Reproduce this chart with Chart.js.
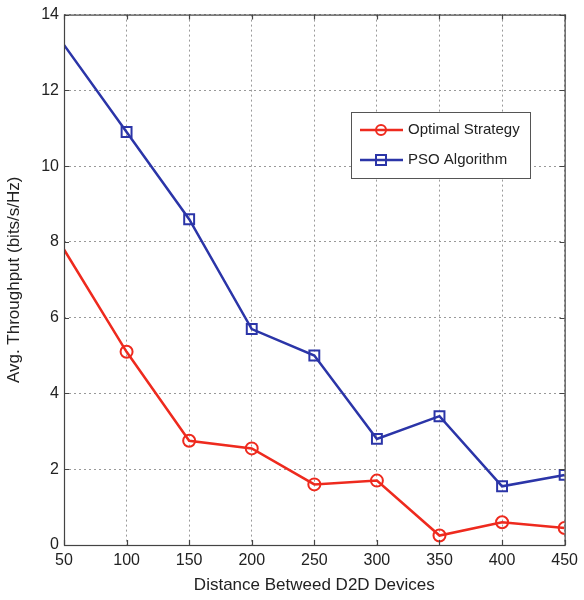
<!DOCTYPE html>
<html>
<head>
<meta charset="utf-8">
<script src="https://cdn.jsdelivr.net/npm/chart.js@4/dist/chart.umd.min.js"></script>
<style>
html,body{margin:0;padding:0;background:#fff;}
#wrap{width:584px;height:600px;position:relative;}
</style>
</head>
<body>
<div id="wrap"><canvas id="c" width="584" height="600"></canvas></div>
<script>
const distances = [50, 100, 150, 200, 250, 300, 350, 400, 450];
const optimalStrategy = [7.8, 5.1, 2.75, 2.55, 1.6, 1.7, 0.25, 0.6, 0.45];
const psoAlgorithm = [13.2, 10.9, 8.6, 5.7, 5.0, 2.8, 3.4, 1.55, 1.85];
const seriesNames = ["Optimal Strategy", "PSO Algorithm"];
const xTitle = "Distance Betweed D2D Devices";
const yTitle = "Avg. Throughput (bits/s/Hz)";

const RED = "#ee2a1e";
const BLUE = "#2b35a8";
const FONT = "'Liberation Sans', Arial, sans-serif";

function toPts(ys){ return distances.map((x,i)=>({x:x,y:ys[i]})); }
const radii = distances.map((d,i)=> i===0 ? 0 : 6);
const radiiSq = distances.map((d,i)=> i===0 ? 0 : 7);

const framePlugin = {
  id:'frame',
  afterDraw(chart){
    const {ctx, chartArea:a, scales} = chart;
    ctx.save();
    ctx.strokeStyle = "#444";
    ctx.lineWidth = 1.2;
    ctx.strokeRect(a.left+0.5, a.top+0.5, a.right-a.left, a.bottom-a.top);
    ctx.beginPath();
    scales.x.ticks.forEach(t=>{
      const px = Math.round(scales.x.getPixelForValue(t.value))+0.5;
      ctx.moveTo(px, a.bottom); ctx.lineTo(px, a.bottom-5);
      ctx.moveTo(px, a.top); ctx.lineTo(px, a.top+5);
    });
    scales.y.ticks.forEach(t=>{
      const py = Math.round(scales.y.getPixelForValue(t.value))+0.5;
      ctx.moveTo(a.left, py); ctx.lineTo(a.left+5, py);
      ctx.moveTo(a.right, py); ctx.lineTo(a.right-5, py);
    });
    ctx.stroke();
    // legend
    const lx = 351, ly = 112, lw = 179, lh = 66;
    ctx.fillStyle = "#fff";
    ctx.fillRect(lx, ly, lw, lh);
    ctx.strokeStyle = "#555";
    ctx.lineWidth = 1;
    ctx.strokeRect(lx+0.5, ly+0.5, lw, lh);
    const items = [{c:RED, shape:'circle'}, {c:BLUE, shape:'rect'}];
    items.forEach((it, i)=>{
      const cy = ly + 18 + i*30;
      ctx.strokeStyle = it.c;
      ctx.lineWidth = 2.5;
      ctx.beginPath(); ctx.moveTo(lx+9, cy); ctx.lineTo(lx+52, cy); ctx.stroke();
      ctx.lineWidth = 2;
      ctx.beginPath();
      if(it.shape==='circle'){ ctx.arc(lx+30, cy, 5, 0, Math.PI*2); }
      else { ctx.rect(lx+25, cy-5, 10, 10); }
      ctx.stroke();
      ctx.fillStyle = "#222";
      ctx.font = "15px " + FONT;
      ctx.textBaseline = "middle";
      ctx.fillText(seriesNames[i], lx+57, cy);
    });
    ctx.restore();
  }
};

new Chart(document.getElementById('c'), {
  type:'line',
  data:{
    datasets:[
      {label:seriesNames[0], data:toPts(optimalStrategy), borderColor:RED, backgroundColor:'rgba(0,0,0,0)',
       borderWidth:2.5, pointStyle:'circle', pointRadius:radii, pointBorderWidth:2, pointBorderColor:RED, tension:0},
      {label:seriesNames[1], data:toPts(psoAlgorithm), borderColor:BLUE, backgroundColor:'rgba(0,0,0,0)',
       borderWidth:2.5, pointStyle:'rect', pointRadius:radiiSq, pointBorderWidth:2, pointBorderColor:BLUE, tension:0}
    ]
  },
  options:{
    responsive:false, animation:false,
    layout:{padding:{left:0, right:16, top:13, bottom:0}},
    plugins:{legend:{display:false}, tooltip:{enabled:false}},
    scales:{
      x:{type:'linear', min:50, max:450,
        ticks:{stepSize:50, color:"#222", font:{family:FONT, size:16}, padding:6},
        grid:{color:"#999", tickLength:0, drawTicks:false},
        border:{display:false, dash:[2,3]},
        title:{display:true, text:xTitle, color:"#222", font:{family:FONT, size:17}, padding:{top:4}},
        afterFit(s){ s.height = 55; }
      },
      y:{min:0, max:14,
        ticks:{stepSize:2, color:"#222", font:{family:FONT, size:16}, padding:5},
        grid:{color:"#999", tickLength:0, drawTicks:false},
        border:{display:false, dash:[2,3]},
        title:{display:true, text:yTitle, color:"#222", font:{family:FONT, size:17}, padding:{bottom:2}},
        afterFit(s){ s.width = 64; }
      }
    }
  },
  plugins:[framePlugin]
});
</script>
</body>
</html>
